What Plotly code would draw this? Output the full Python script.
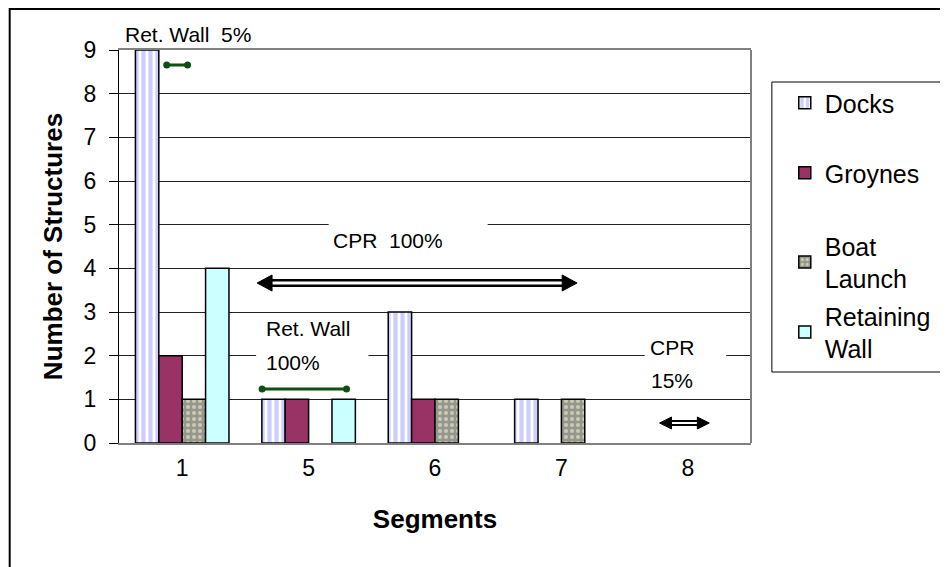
import plotly.graph_objects as go

# ---------------- data ----------------
segments = ["1", "5", "6", "7", "8"]
docks = [9, 1, 3, 1, 0]
groynes = [2, 1, 1, 0, 0]
boat_launch = [1, 0, 1, 1, 0]
retaining_wall = [4, 1, 0, 0, 0]
y_ticks = [0, 1, 2, 3, 4, 5, 6, 7, 8, 9]

# ---------------- layout helpers (screen pixel coordinates) ----------------
OFF = 8                      # default page body margin
W, H = 948 - OFF, 567 - OFF  # figure size
L, R, T, B = 119, 755, 50, 443  # plot area on screen
FONT = "Liberation Sans, Arial, sans-serif"


def px(x):
    return (x - L) / (R - L)


def py(y):
    return (B - y) / (B - T)


def nz(vals):
    return [v if v else None for v in vals]


fig = go.Figure()

series = [
    ("Docks", docks, dict(color="white", pattern=dict(shape="|", fgcolor="#9999ff", bgcolor="white", size=7, solidity=0.6))),
    ("Groynes", groynes, dict(color="#993366")),
    ("Boat<br>Launch", boat_launch, dict(color="#969690", pattern=dict(shape=".", fgcolor="#ffffcc", size=6, solidity=0.35))),
    ("Retaining<br>Wall", retaining_wall, dict(color="#ccffff")),
]
legend_centers = [103, 173, 262, 332]

for i, (name, vals, mk) in enumerate(series):
    mk["line"] = dict(color="black", width=1.5)
    fig.add_trace(go.Bar(
        x=segments, y=nz(vals), name=name, marker=mk,
        legend="legend" if i == 0 else f"legend{i + 1}",
    ))

legend_common = dict(
    x=px(789), xanchor="left", yanchor="middle",
    font=dict(family=FONT, size=25, color="black"),
    bgcolor="rgba(0,0,0,0)", borderwidth=0,
)
legends = {}
for i, c in enumerate(legend_centers):
    key = "legend" if i == 0 else f"legend{i + 1}"
    legends[key] = dict(legend_common, y=py(c))

shapes = []
# outer frame
shapes.append(dict(type="rect", xref="paper", yref="paper", x0=px(9), x1=px(1000), y0=py(9), y1=py(620),
                   line=dict(color="black", width=2), layer="below"))
# legend frame
shapes.append(dict(type="rect", xref="paper", yref="paper", x0=px(776), x1=px(1000), y0=py(82), y1=py(372),
                   line=dict(color="black", width=1)))
# right border of plot area
shapes.append(dict(type="line", xref="paper", yref="paper", x0=1, x1=1, y0=0, y1=1,
                   line=dict(color="#808080", width=2)))

# white cut-outs behind text labels
for (x0, x1, y0, y1) in [(330, 490, 218, 258), (257, 370, 316, 378), (648, 730, 334, 392)]:
    shapes.append(dict(type="rect", xref="paper", yref="paper", x0=px(x0), x1=px(x1), y0=py(y1), y1=py(y0),
                       fillcolor="white", line=dict(width=0), layer="above"))

# green dumbbells
GREEN = "#0f4f0f"
for (xa, xb, yy) in [(167, 188, 65), (263, 348, 389)]:
    shapes.append(dict(type="line", xref="paper", yref="paper", x0=px(xa), x1=px(xb), y0=py(yy), y1=py(yy),
                       line=dict(color=GREEN, width=3), layer="above"))
    for xc in (xa, xb):
        shapes.append(dict(type="circle", xref="paper", yref="paper", x0=px(xc - 3.5), x1=px(xc + 3.5),
                           y0=py(yy + 3.5), y1=py(yy - 3.5), fillcolor=GREEN, line=dict(width=0), layer="above"))


# hollow double arrows
def double_arrow(xa, xb, yy, head, half, outer, inner):
    out = []
    out.append(dict(type="line", xref="paper", yref="paper", x0=px(xa + head - 1), x1=px(xb - head + 1),
                    y0=py(yy), y1=py(yy), line=dict(color="black", width=outer), layer="above"))
    out.append(dict(type="line", xref="paper", yref="paper", x0=px(xa + head - 1), x1=px(xb - head + 1),
                    y0=py(yy), y1=py(yy), line=dict(color="white", width=inner), layer="above"))
    left = f"M {px(xa)} {py(yy)} L {px(xa + head)} {py(yy - half)} L {px(xa + head)} {py(yy + half)} Z"
    right = f"M {px(xb)} {py(yy)} L {px(xb - head)} {py(yy - half)} L {px(xb - head)} {py(yy + half)} Z"
    for p in (left, right):
        out.append(dict(type="path", xref="paper", yref="paper", path=p, fillcolor="black",
                        line=dict(color="black", width=1), layer="above"))
    return out


shapes += double_arrow(258, 580, 283, 15, 8, 8, 3)
shapes += double_arrow(663, 713, 423, 12, 6, 6, 2)

annotations = []


def label(text, x, y, xanchor="center"):
    annotations.append(dict(text=text, x=px(x), y=py(y), xref="paper", yref="paper", xanchor=xanchor,
                            yanchor="middle", showarrow=False, font=dict(family=FONT, size=21, color="black")))


label("Ret. Wall\u00a0 5%", 188, 34)
label("CPR\u00a0 100%", 390, 241)
label("Ret. Wall", 265, 328, "left")
label("100%", 265, 362, "left")
label("CPR", 675, 347)
label("15%", 675, 380)

fig.update_layout(
    width=W, height=H,
    margin=dict(l=L - OFF, r=W - (R - OFF), t=T - OFF, b=H - (B - OFF)),
    paper_bgcolor="white", plot_bgcolor="white",
    showlegend=True,
    barmode="group", bargap=0.26, bargroupgap=0,
    font=dict(family=FONT, size=20, color="black"),
    shapes=shapes, annotations=annotations,
    **legends,
)
fig.update_xaxes(
    type="category", showgrid=False, showline=True, linecolor="#808080", linewidth=2, mirror=True,
    ticks="", tickfont=dict(family=FONT, size=23, color="black"), ticklabelstandoff=3,
    title=dict(text="<b>Segments</b>", font=dict(family=FONT, size=26, color="black"), standoff=30),
)
fig.update_yaxes(
    range=[0, 9], tickvals=y_ticks, showgrid=True, gridcolor="#222222", gridwidth=1,
    showline=True, linecolor="black", linewidth=1, zeroline=False,
    ticks="outside", ticklen=9, tickcolor="black", ticklabelstandoff=8,
    tickfont=dict(family=FONT, size=23, color="black"),
    title=dict(text="<b>Number of Structures</b>", font=dict(family=FONT, size=26, color="black"), standoff=13),
)

fig.write_html("out.html")
